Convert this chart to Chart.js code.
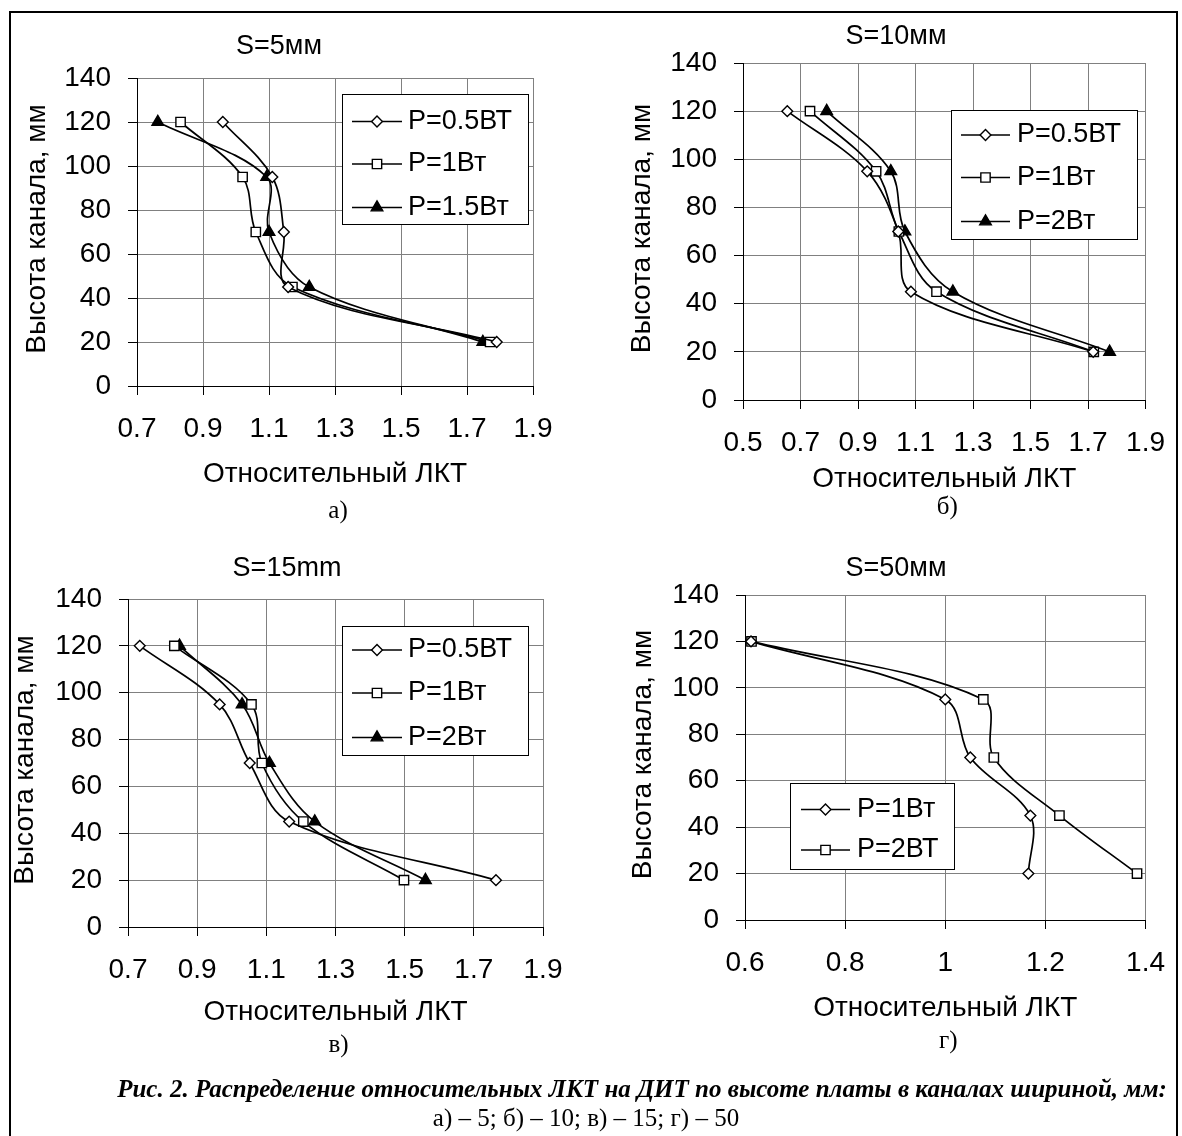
<!DOCTYPE html>
<html><head><meta charset="utf-8">
<script src="https://cdn.jsdelivr.net/npm/chart.js"></script>
<style>
html,body{margin:0;padding:0;background:#fff;width:1182px;height:1136px;overflow:hidden;}
body{position:relative;}
canvas{position:absolute;left:0;top:0;}
#frame{position:absolute;left:9px;top:11px;width:1169px;height:1200px;border:2px solid #000;box-sizing:border-box;}
.cap{position:absolute;white-space:nowrap;font-family:'Liberation Serif','Times New Roman',serif;color:#000;transform:translate(-50%,-50%);line-height:1;}
</style></head><body>
<div id="frame"></div>
<canvas id="ca" width="1182" height="1136"></canvas>
<canvas id="cb" width="1182" height="1136"></canvas>
<canvas id="cc" width="1182" height="1136"></canvas>
<canvas id="cd" width="1182" height="1136"></canvas>
<div class="cap" id="cap1" style="left:642px;top:1088px;font-size:25px;font-weight:bold;font-style:italic;"></div>
<div class="cap" id="cap2" style="left:586px;top:1117px;font-size:25px;"></div>
<script>
// ---- data ----
const heights = [120, 95, 70, 45, 20];

const xTicksA = [0.7, 0.9, 1.1, 1.3, 1.5, 1.7, 1.9];
const xTicksB = [0.5, 0.7, 0.9, 1.1, 1.3, 1.5, 1.7, 1.9];
const xTicksC = [0.7, 0.9, 1.1, 1.3, 1.5, 1.7, 1.9];
const xTicksD = [0.6, 0.8, 1, 1.2, 1.4];
const yTicks = [0, 20, 40, 60, 80, 100, 120, 140];

const a_p05 = [0.96, 1.11, 1.145, 1.158, 1.79];
const a_p1  = [0.832, 1.02, 1.06, 1.171, 1.77];
const a_p15 = [0.763, 1.093, 1.10, 1.222, 1.748];

const b_p05 = [0.654, 0.932, 1.04, 1.084, 1.718];
const b_p1  = [0.733, 0.963, 1.042, 1.173, 1.72];
const b_p2  = [0.791, 1.014, 1.063, 1.23, 1.775];

const c_p05 = [0.734, 0.965, 1.052, 1.166, 1.764];
const c_p1  = [0.834, 1.057, 1.087, 1.207, 1.498];
const c_p2  = [0.849, 1.030, 1.109, 1.240, 1.560];

const d_p1 = [0.612, 1.0, 1.05, 1.17, 1.166];
const d_p2 = [0.613, 1.076, 1.097, 1.228, 1.383];

const titles = ['S=5мм', 'S=10мм', 'S=15mm', 'S=50мм'];
const subLabels = ['а)', 'б)', 'в)', 'г)'];
const labelsA = ['P=0.5ВТ', 'P=1Вт', 'P=1.5Вт'];
const labelsB = ['P=0.5ВТ', 'P=1Вт', 'P=2Вт'];
const labelsC = ['P=0.5ВТ', 'P=1Вт', 'P=2Вт'];
const labelsD = ['P=1Вт', 'P=2ВТ'];
const yTitle = 'Высота канала, мм';
const xTitle = 'Относительный ЛКТ';
const caption1 = 'Рис. 2. Распределение относительных ЛКТ на ДИТ по высоте платы в каналах шириной, мм:';
const caption2 = 'а) – 5; б) – 10; в) – 15; г) – 50';

document.getElementById('cap1').textContent = caption1;
document.getElementById('cap2').textContent = caption2;

// ---- styling ----
const SANS = "'Liberation Sans', Arial, Helvetica, sans-serif";
const SERIF = "'Liberation Serif', 'Times New Roman', serif";
const GRID = '#808080';
const MARK = {
  diamond:  {pointStyle: 'rectRot', pointRadius: 5.4, pointBackgroundColor: '#fff'},
  square:   {pointStyle: 'rect', pointRadius: 6.6, pointBackgroundColor: '#fff'},
  triangle: {pointStyle: 'triangle', pointRadius: 6.7, pointBackgroundColor: '#000'}
};

function drawMarker(ctx, kind, x, y) {
  const m = MARK[kind], r = m.pointRadius;
  ctx.beginPath();
  if (kind === 'diamond') {
    ctx.moveTo(x - r, y); ctx.lineTo(x, y - r); ctx.lineTo(x + r, y); ctx.lineTo(x, y + r);
  } else if (kind === 'square') {
    const s = Math.SQRT1_2 * r; ctx.rect(x - s, y - s, 2 * s, 2 * s);
  } else {
    ctx.moveTo(x, y - r);
    ctx.lineTo(x + r * Math.sin(2 * Math.PI / 3), y - r * Math.cos(2 * Math.PI / 3));
    ctx.lineTo(x + r * Math.sin(4 * Math.PI / 3), y - r * Math.cos(4 * Math.PI / 3));
  }
  ctx.closePath();
  ctx.fillStyle = m.pointBackgroundColor; ctx.fill();
  ctx.lineWidth = 1.4; ctx.strokeStyle = '#000'; ctx.stroke();
}

function txt(ctx, t, x, y, font, align) {
  ctx.font = font; ctx.textAlign = align || 'center'; ctx.textBaseline = 'middle';
  ctx.fillStyle = '#000'; ctx.fillText(t, x, y);
}

function decor(cfg) {
  return {
    id: 'decor',
    afterDraw(chart) {
      const ctx = chart.ctx, ca = chart.chartArea;
      ctx.save();
      txt(ctx, cfg.title, cfg.titleX, cfg.titleY, `27px ${SANS}`);
      ctx.save();
      ctx.translate(cfg.yTitleX, (ca.top + ca.bottom) / 2 + cfg.yTitleDy);
      ctx.rotate(-Math.PI / 2);
      txt(ctx, yTitle, 0, 0, `28px ${SANS}`);
      ctx.restore();
      const cx = (ca.left + ca.right) / 2;
      txt(ctx, xTitle, cx, cfg.xTitleY, `28px ${SANS}`);
      txt(ctx, cfg.sub, cx + 3, cfg.subY, `25px ${SERIF}`);
      const lg = cfg.legend;
      ctx.fillStyle = '#fff';
      ctx.fillRect(lg.x1, lg.y1, lg.x2 - lg.x1, lg.y2 - lg.y1);
      ctx.strokeStyle = '#000'; ctx.lineWidth = 1;
      ctx.strokeRect(lg.x1 + 0.5, lg.y1 + 0.5, lg.x2 - lg.x1, lg.y2 - lg.y1);
      cfg.series.forEach((s, i) => {
        const y = lg.rows[i];
        ctx.beginPath(); ctx.moveTo(lg.l1, y); ctx.lineTo(lg.l2, y);
        ctx.lineWidth = 1.7; ctx.strokeStyle = '#000'; ctx.stroke();
        drawMarker(ctx, s.marker, (lg.l1 + lg.l2) / 2, y);
        txt(ctx, s.label, lg.tx, y, `27px ${SANS}`, 'left');
      });
      ctx.restore();
    }
  };
}

function makeChart(id, cfg) {
  const p = cfg.plot, YW = 110, XH = 60;
  const datasets = cfg.series.map(s => Object.assign({
    label: s.label,
    data: s.x.map((v, i) => ({x: v, y: heights[i]})),
    showLine: true, borderColor: '#000', borderWidth: 1.7, tension: 0.35, fill: false,
    pointBorderColor: '#000', pointBorderWidth: 1.4
  }, MARK[s.marker]));
  const xt = cfg.xTicks;
  return new Chart(document.getElementById(id), {
    type: 'scatter',
    data: {datasets},
    options: {
      responsive: false, animation: false, events: [],
      layout: {padding: {left: p.L - YW, top: p.T, right: 1182 - p.R, bottom: 1136 - p.B - XH}},
      plugins: {legend: {display: false}, tooltip: {enabled: false}, title: {display: false}},
      scales: {
        x: {
          type: 'linear', min: xt[0], max: xt[xt.length - 1],
          afterBuildTicks: s => { s.ticks = xt.map(v => ({value: v})); },
          afterFit: s => { s.height = XH; },
          ticks: {autoSkip: false, maxRotation: 0, padding: 17, color: '#000',
                  font: {family: SANS, size: 28}, callback: v => String(v)},
          grid: {color: GRID, lineWidth: 1, tickLength: 9, tickColor: '#000'},
          border: {color: '#000', width: 1}
        },
        y: {
          type: 'linear', min: yTicks[0], max: yTicks[yTicks.length - 1],
          afterBuildTicks: s => { s.ticks = yTicks.map(v => ({value: v})); },
          afterFit: s => { s.width = YW; },
          ticks: {autoSkip: false, padding: 17, color: '#000',
                  font: {family: SANS, size: 28}, callback: v => String(v)},
          grid: {color: GRID, lineWidth: 1, tickLength: 9, tickColor: '#000'},
          border: {color: '#000', width: 1}
        }
      }
    },
    plugins: [decor(cfg)]
  });
}

makeChart('ca', {
  plot: {L: 137, T: 78, R: 533, B: 386}, xTicks: xTicksA,
  title: titles[0], titleX: 279, titleY: 47, yTitleX: 37, yTitleDy: -3,
  xTitleY: 474, sub: subLabels[0], subY: 511,
  series: [
    {label: labelsA[0], x: a_p05, marker: 'diamond'},
    {label: labelsA[1], x: a_p1, marker: 'square'},
    {label: labelsA[2], x: a_p15, marker: 'triangle'}
  ],
  legend: {x1: 342, y1: 94, x2: 528, y2: 224, rows: [121.5, 164, 207.5], l1: 352, l2: 402, tx: 408}
});
makeChart('cb', {
  plot: {L: 743, T: 63, R: 1150, B: 400}, xTicks: xTicksB,
  title: titles[1], titleX: 896, titleY: 37, yTitleX: 642, yTitleDy: -3,
  xTitleY: 479, sub: subLabels[1], subY: 507,
  series: [
    {label: labelsB[0], x: b_p05, marker: 'diamond'},
    {label: labelsB[1], x: b_p1, marker: 'square'},
    {label: labelsB[2], x: b_p2, marker: 'triangle'}
  ],
  legend: {x1: 951, y1: 110, x2: 1137, y2: 239, rows: [135, 177.5, 221.5], l1: 961, l2: 1010, tx: 1017}
});
makeChart('cc', {
  plot: {L: 128, T: 599, R: 543, B: 927}, xTicks: xTicksC,
  title: titles[2], titleX: 287, titleY: 569, yTitleX: 25, yTitleDy: -3,
  xTitleY: 1012, sub: subLabels[2], subY: 1045,
  series: [
    {label: labelsC[0], x: c_p05, marker: 'diamond'},
    {label: labelsC[1], x: c_p1, marker: 'square'},
    {label: labelsC[2], x: c_p2, marker: 'triangle'}
  ],
  legend: {x1: 342, y1: 626, x2: 528, y2: 755, rows: [650, 693, 737.5], l1: 352, l2: 402, tx: 408}
});
makeChart('cd', {
  plot: {L: 745, T: 595, R: 1150, B: 920}, xTicks: xTicksD,
  title: titles[3], titleX: 896, titleY: 569, yTitleX: 643, yTitleDy: -3,
  xTitleY: 1008, sub: subLabels[3], subY: 1041,
  series: [
    {label: labelsD[0], x: d_p1, marker: 'diamond'},
    {label: labelsD[1], x: d_p2, marker: 'square'}
  ],
  legend: {x1: 790, y1: 783, x2: 954, y2: 869, rows: [809.5, 850], l1: 801, l2: 850, tx: 857}
});
</script>
</body></html>
